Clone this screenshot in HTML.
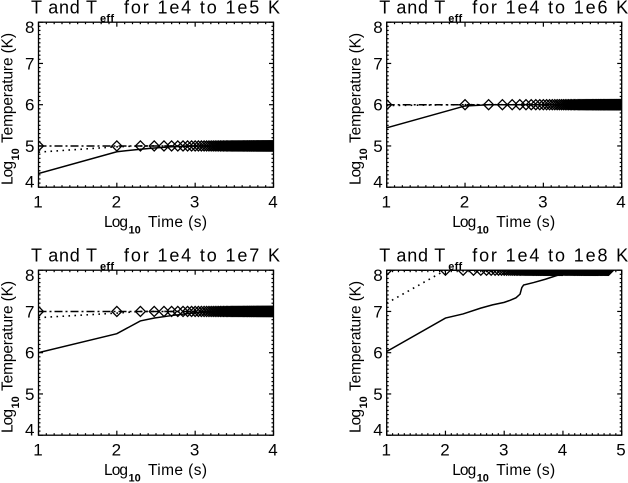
<!DOCTYPE html>
<html>
<head>
<meta charset="utf-8">
<title>T and Teff panels</title>
<style>
html,body{margin:0;padding:0;background:#fff;}
svg{display:block;}
text{font-family:"Liberation Sans",sans-serif;fill:#000;}
</style>
</head>
<body>
<svg id="chart" xmlns="http://www.w3.org/2000/svg" width="628" height="483" viewBox="0 0 628 483"></svg>
<script>
const panelTitleEnds = ['1e5', '1e6', '1e7', '1e8'];
const yTicks = [4, 5, 6, 7, 8];
const xTicksShort = [1, 2, 3, 4];
const xTicksLong = [1, 2, 3, 4, 5];

const diamondTimes = [10,100,200,300,400,500,600,700,800,900,1000,1100,1200,1300,1400,1500,1600,1700,1800,1900,2000,2100,2200,2300,2400,2500,2600,2700,2800,2900,3000,3100,3200,3300,3400,3500,3600,3700,3800,3900,4000,4100,4200,4300,4400,4500,4600,4700,4800,4900,5000,5100,5200,5300,5400,5500,5600,5700,5800,5900,6000,6100,6200,6300,6400,6500,6600,6700,6800,6900,7000,7100,7200,7300,7400,7500,7600,7700,7800,7900,8000,8100,8200,8300,8400,8500,8600,8700,8800,8900,9000,9100,9200,9300,9400,9500,9600,9700,9800,9900,10000];
const diamondTimesLong = [10500,11000,11500,12000,12500,13000,13500,14000,14500,15000,15500,16000,16500,17000,17500,18000,18500,19000,19500,20000,20500,21000,21500,22000,22500,23000,23500,24000,24500,25000,25500,26000,26500,27000,27500,28000,28500,29000,29500,30000,30500,31000,31500,32000,32500,33000,33500,34000,34500,35000,35500,36000,36500,37000,37500,38000,38500,39000,39500,40000,41000,42000,43000,44000,45000,46000,47000,48000,49000,50000,51000,52000,53000,54000,55000,56000,57000,58000,59000,60000];

const targetTemps = [5, 6, 7, 8];

const solidP1X = [1, 2, 2.3, 2.48, 2.7, 3, 4];
const solidP1Y = [4.33, 4.86, 4.92, 4.95, 4.98, 5, 5];
const dottedP1X = [1, 2, 2.3, 4];
const dottedP1Y = [4.85, 4.98, 5, 5];

const solidP2X = [1, 2, 2.3, 4];
const solidP2Y = [5.44, 5.97, 6, 6];
const dottedP2X = [1, 2, 4];
const dottedP2Y = [5.98, 6, 6];

const solidP3X = [1, 2, 2.3, 2.48, 2.7, 3, 3.3, 4];
const solidP3Y = [6, 6.46, 6.77, 6.84, 6.9, 6.97, 7, 7];
const dottedP3X = [1, 2, 2.3, 4];
const dottedP3Y = [6.85, 6.96, 7, 7];

const solidP4X = [1, 2, 2.3, 2.6, 2.8, 3, 3.1, 3.2, 3.27, 3.3, 3.33, 3.5, 3.7, 4, 4.2, 4.78];
const solidP4Y = [6.03, 6.84, 6.94, 7.08, 7.16, 7.22, 7.27, 7.33, 7.42, 7.58, 7.64, 7.7, 7.78, 7.92, 8, 8];
const dottedP4X = [1, 2, 4.78];
const dottedP4Y = [7.2, 8, 8];

const panelLayouts = [
  {left: 38.5, top: 22.2, xMax: 4, ticks: xTicksShort, sx: solidP1X, sy: solidP1Y, dx: dottedP1X, dy: dottedP1Y, long: false},
  {left: 386.7, top: 22.2, xMax: 4, ticks: xTicksShort, sx: solidP2X, sy: solidP2Y, dx: dottedP2X, dy: dottedP2Y, long: false},
  {left: 38.5, top: 270.2, xMax: 4, ticks: xTicksShort, sx: solidP3X, sy: solidP3Y, dx: dottedP3X, dy: dottedP3Y, long: false},
  {left: 386.7, top: 270.2, xMax: 5, ticks: xTicksLong, sx: solidP4X, sy: solidP4Y, dx: dottedP4X, dy: dottedP4Y, long: true}
];

const NS = 'http://www.w3.org/2000/svg';
const svg = document.getElementById('chart');

function make(parent, tag, attrs, txt) {
  const el = document.createElementNS(NS, tag);
  for (const k in attrs) el.setAttribute(k, attrs[k]);
  if (txt !== undefined) el.textContent = txt;
  parent.appendChild(el);
  return el;
}

function drawPanel(p, i) {
  const W = 235, H = 165;
  const xs = v => p.left + (v - 1) / (p.xMax - 1) * W;
  const ys = v => p.top + (8 - v) / 4 * H;
  const ox = p.left - 38.5, oy = p.top - 22.2;

  const g = make(svg, 'g', {});
  
  

  const cid = 'clip' + i;
  const defs = make(g, 'defs', {});
  const cp = make(defs, 'clipPath', {id: cid});
  make(cp, 'rect', {x: p.left, y: p.top, width: W, height: H});

  // title
  const title = make(g, 'g', {});
  
  
  make(title, 'text', {x: 31 + ox, y: 13.5 + oy, 'font-size': 18, textLength: 66, lengthAdjust: 'spacing'}, 'T and T');
  make(title, 'text', {x: 100 + ox, y: 22 + oy, 'font-size': 11, 'font-weight': 'bold', textLength: 14, lengthAdjust: 'spacing'}, 'eff');
  make(title, 'text', {x: 124 + ox, y: 13.5 + oy, 'font-size': 18, textLength: 156, lengthAdjust: 'spacing'}, 'for 1e4 to ' + panelTitleEnds[i] + ' K');

  // series
  const series = make(g, 'g', {'clip-path': 'url(#' + cid + ')', fill: 'none', stroke: '#000'});
  const path = (a, b) => a.map((v, j) => xs(v).toFixed(2) + ',' + ys(b[j]).toFixed(2)).join(' ');

  const solid = make(series, 'polyline', {points: path(p.sx, p.sy), 'stroke-width': 1.5});
  
  

  const dotted = make(series, 'polyline', {points: path(p.dx, p.dy), 'stroke-width': 1.6, 'stroke-dasharray': '1.6 4.4'});
  
  

  const times = p.long ? diamondTimes.concat(diamondTimesLong) : diamondTimes;
  const logs = times.map(t => Math.log10(t));
  const target = targetTemps[i];

  const dash = make(series, 'line', {x1: xs(logs[0]), x2: xs(logs[logs.length - 1]), y1: ys(target), y2: ys(target), 'stroke-width': 1.5, 'stroke-dasharray': '8 3 2 3'});
  
  

  const marks = make(series, 'g', {'stroke-width': 1.3});
  
  
  logs.forEach(l => {
    const cx = xs(l), cy = ys(target), r = 5;
    const m = make(marks, 'polygon', {points: [cx - r, cy, cx, cy - r, cx + r, cy, cx, cy + r].map(n => n.toFixed(2)).join(' ')});
    
    
  });

  // frame
  const frame = make(g, 'rect', {x: p.left, y: p.top, width: W, height: H, fill: 'none', stroke: '#000', 'stroke-width': 1.3});
  
  

  // ticks
  const ticks = make(g, 'g', {stroke: '#000', 'stroke-width': 1.2});
  
  
  for (let n = 0; n <= (p.xMax - 1) * 10; n++) {
    const x = xs(1 + n / 10), len = n % 10 === 0 ? 4.5 : 2;
    make(ticks, 'line', {x1: x, x2: x, y1: p.top + H, y2: p.top + H - len});
    make(ticks, 'line', {x1: x, x2: x, y1: p.top, y2: p.top + len});
  }
  for (let n = 0; n <= 40; n++) {
    const y = ys(4 + n / 10), len = n % 10 === 0 ? 4.5 : 2;
    make(ticks, 'line', {x1: p.left, x2: p.left + len, y1: y, y2: y});
    make(ticks, 'line', {x1: p.left + W, x2: p.left + W - len, y1: y, y2: y});
  }

  // tick labels
  const xl = make(g, 'g', {'font-size': 17, 'text-anchor': 'middle'});
  
  
  p.ticks.forEach(v => {
    make(xl, 'text', {x: Math.min(xs(v) - 0.5, 621), y: p.top + H + 20.5}, String(v));
  });
  const yl = make(g, 'g', {'font-size': 17, 'text-anchor': 'end'});
  
  
  yTicks.forEach(v => {
    const by = Math.min(Math.max(ys(v) + 6, p.top + 11), p.top + H + 0.5);
    make(yl, 'text', {x: p.left - 4, y: by}, String(v));
  });

  // x title
  const xt = make(g, 'g', {});
  
  
  make(xt, 'text', {x: 104 + ox, y: 227 + oy, 'font-size': 15.5, textLength: 24, lengthAdjust: 'spacing'}, 'Log');
  make(xt, 'text', {x: 128.5 + ox, y: 233.5 + oy, 'font-size': 11, 'font-weight': 'bold'}, '10');
  make(xt, 'text', {x: 148 + ox, y: 227 + oy, 'font-size': 15.5, textLength: 59, lengthAdjust: 'spacing'}, 'Time (s)');

  // y title
  const yt = make(g, 'g', {transform: 'translate(' + (12.5 + ox) + ' ' + (185 + oy) + ') rotate(-90)'});
  
  
  make(yt, 'text', {x: 0, y: 0, 'font-size': 15.5, textLength: 24, lengthAdjust: 'spacing'}, 'Log');
  make(yt, 'text', {x: 24.5, y: 6.5, 'font-size': 11, 'font-weight': 'bold'}, '10');
  make(yt, 'text', {x: 42, y: 0, 'font-size': 15.5, textLength: 110, lengthAdjust: 'spacing'}, 'Temperature (K)');
}

panelLayouts.forEach(drawPanel);
</script>
</body>
</html>
